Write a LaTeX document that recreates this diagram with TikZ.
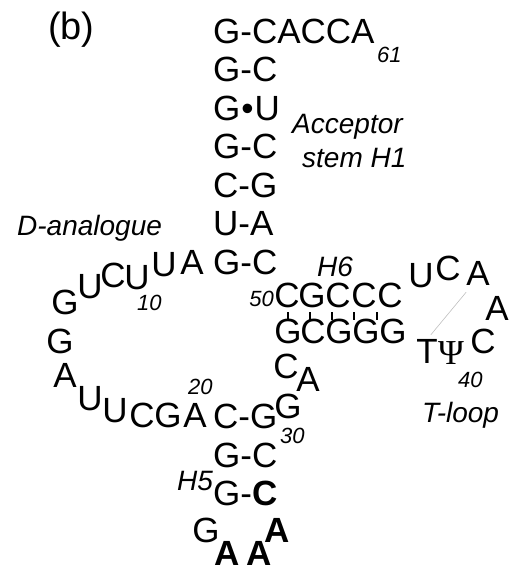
\documentclass[tikz,border=0pt]{standalone}
\usepackage{fontspec}
\setmainfont{Liberation Sans}
\newfontfamily\psifont{Liberation Serif}
\begin{document}
\begin{tikzpicture}[x=1pt,y=-1pt,
  nt/.style={inner sep=0pt, anchor=base, font=\fontsize{35}{35}\selectfont},
  ntb/.style={nt, font=\fontsize{35}{35}\selectfont\bfseries},
  rowtxt/.style={nt, anchor=base west},
  num/.style={inner sep=0pt, anchor=base west, font=\fontsize{22}{22}\selectfont\itshape},
  lbl/.style={inner sep=0pt, anchor=base west, font=\fontsize{28}{28}\selectfont\itshape},
  tickmark/.style={line width=1.4pt},
  thinline/.style={line width=0.6pt, gray!50}]
\useasboundingbox (0,0) rectangle (517,579);
% title
\node[inner sep=0pt, anchor=base west, font=\fontsize{38}{38}\selectfont] (title) at (48,39) {(b)};
% acceptor stem
\node[rowtxt] (s1) at (213,43) {G-CACCA};
\node[rowtxt] (s2) at (213,81) {G-C};
\node[rowtxt] (s3) at (213,120) {G\kern0.03em•\kern0.03em U};
\node[rowtxt] (s4) at (213,158) {G-C};
\node[rowtxt] (s5) at (213,197) {C-G};
\node[rowtxt] (s6) at (213,235) {U-A};
\node[rowtxt] (s7) at (213,274) {G-C};
\node[num] (n61) at (377,62) {61};
\node[lbl] (acc) at (292,133) {Acceptor};
\node[lbl] (stm) at (302,167) {stem H1};
\node[lbl] (dan) at (17,235) {D-analogue};
% D loop
\node[nt] (dA1) at (192,274) {A};
\node[nt] (dU1) at (164,276) {U};
\node[nt] (dU2) at (137,289) {U};
\node[nt] (dC1) at (113,287) {C};
\node[nt] (dU3) at (90,298) {U};
\node[nt] (dG1) at (65,314) {G};
\node[num] (n10) at (137,310) {10};
\node[nt] (dG2) at (60,353) {G};
\node[nt] (dA2) at (65,387) {A};
\node[nt] (dU4) at (90,410) {U};
\node[nt] (dU5) at (115,422) {U};
\node[nt] (dC2) at (142,427) {C};
\node[nt] (dG3) at (168,427) {G};
\node[nt] (dA3) at (195,427) {A};
\node[num] (n20) at (188,394) {20};
% anticodon stem H5
\node[rowtxt] (h1) at (213,428) {C-G};
\node[rowtxt] (h2) at (213,467) {G-C};
\node[rowtxt] (h3) at (213,505) {G-\textbf{C}};
\node[lbl] (h5) at (177,490) {H5};
\node[num] (n30) at (280,443) {30};
\node[nt] (aG) at (206,542) {G};
\node[ntb] (aA1) at (227,565) {A};
\node[ntb] (aA2) at (259,565) {A};
\node[ntb] (aA3) at (277,542) {A};
% linker
\node[nt] (lG) at (288,418) {G};
\node[nt] (lA) at (308,391) {A};
\node[nt] (lC) at (286,378) {C};
% H6
\node[lbl] (h6) at (317,276) {H6};
\node[num, anchor=base east] (n50) at (274,306) {50};
\node[nt] (t1) at (287,307) {C};
\node[nt] (t2) at (312,307) {G};
\node[nt] (t3) at (338,307) {C};
\node[nt] (t4) at (364,307) {C};
\node[nt] (t5) at (390,307) {C};
\node[nt] (b1) at (288,343) {G};
\node[nt] (b2) at (313,343) {C};
\node[nt] (b3) at (339,343) {G};
\node[nt] (b4) at (366,343) {G};
\node[nt] (b5) at (393,343) {G};
\foreach \x in {288,310,332,354,377}
  \draw[tickmark] (\x,312) -- (\x,320);
% T loop
\node[nt] (tU) at (421,287) {U};
\node[nt] (tC) at (448,280) {C};
\node[nt] (tA) at (478,285) {A};
\node[nt] (tA2) at (497,320) {A};
\node[nt] (tC2) at (483,353) {C};
\node[nt] (tT) at (427,363) {T};
\node[nt, font=\fontsize{35}{35}\psifont] (tP) at (451,364) {Ψ};
\node[num] (n40) at (458,387) {40};
\node[lbl] (tl) at (422,422) {T-loop};
\draw[thinline] ([shift={(0,7)}]tA.south west) -- ([shift={(-7,-4)}]tT.north east);
\end{tikzpicture}
\end{document}
